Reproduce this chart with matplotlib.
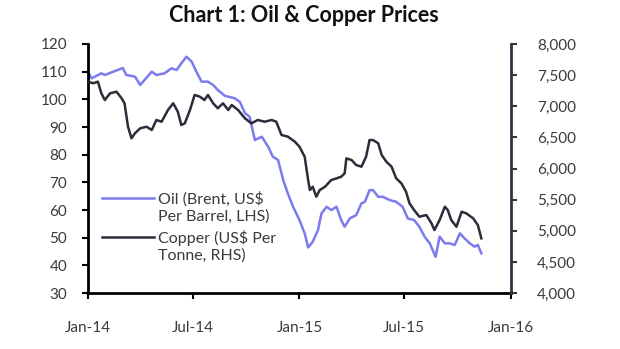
import matplotlib
matplotlib.use("Agg")
import matplotlib.pyplot as plt
import matplotlib.dates as mdates
import matplotlib.ticker as mticker
import numpy as np
import pandas as pd

plt.rcParams['font.family'] = ['Lato', 'DejaVu Sans']

# Brent oil, US$ per barrel (LHS)
oil_dates = ['2014-01-01', '2014-01-07', '2014-01-24', '2014-01-30', '2014-02-21', '2014-03-02',
             '2014-03-08', '2014-03-23', '2014-04-01', '2014-04-06', '2014-04-21', '2014-04-29',
             '2014-05-13', '2014-05-25', '2014-06-03', '2014-06-11', '2014-06-20', '2014-06-29',
             '2014-07-07', '2014-07-16', '2014-07-27', '2014-08-05', '2014-08-13', '2014-08-25',
             '2014-09-11', '2014-09-20', '2014-09-29', '2014-10-07', '2014-10-16', '2014-10-28',
             '2014-11-08', '2014-11-16', '2014-11-25', '2014-12-04', '2014-12-12', '2014-12-21',
             '2015-01-01', '2015-01-10', '2015-01-16', '2015-01-24', '2015-02-02', '2015-02-08',
             '2015-02-17', '2015-02-25', '2015-03-06', '2015-03-14', '2015-03-20', '2015-03-29',
             '2015-04-09', '2015-04-18', '2015-04-24', '2015-05-02', '2015-05-08', '2015-05-17',
             '2015-05-25', '2015-06-06', '2015-06-17', '2015-06-28', '2015-07-07', '2015-07-18',
             '2015-07-27', '2015-08-05', '2015-08-14', '2015-08-24', '2015-08-31', '2015-09-09',
             '2015-09-17', '2015-09-26', '2015-10-05', '2015-10-13', '2015-10-22', '2015-10-30',
             '2015-11-05', '2015-11-11']
oil_price = [110, 107.6, 109.4, 108.8, 110.6, 111.3,
             108.8, 108.2, 105.2, 106.4, 110, 108.8,
             109.4, 111.2, 110.6, 113, 115.4, 113.6,
             110, 106.4, 106.4, 105.2, 103.4, 101.3,
             100.4, 99.1, 95, 93.7, 85.3, 86.5,
             82.9, 79.3, 78.1, 70.8, 66, 61.2,
             56.4, 51.6, 46.5, 48.6, 52.8, 58.8,
             61.2, 60, 61.2, 56.4, 54, 57,
             58.2, 62.4, 63, 67.2, 67.2, 64.8,
             64.8, 63.6, 63, 61.2, 57, 56.4,
             54, 50.4, 48, 43.1, 50.4, 48,
             48, 47.4, 51.6, 49.8, 48, 46.8,
             47.4, 44.4]

# Copper, US$ per tonne (RHS)
cu_dates = ['2014-01-01', '2014-01-10', '2014-01-18', '2014-01-24', '2014-01-30', '2014-02-08',
            '2014-02-19', '2014-02-28', '2014-03-05', '2014-03-11', '2014-03-17', '2014-03-23',
            '2014-04-01', '2014-04-12', '2014-04-21', '2014-04-29', '2014-05-08', '2014-05-19',
            '2014-05-28', '2014-06-05', '2014-06-11', '2014-06-17', '2014-06-26', '2014-07-04',
            '2014-07-13', '2014-07-21', '2014-07-27', '2014-08-05', '2014-08-13', '2014-08-22',
            '2014-08-31', '2014-09-06', '2014-09-17', '2014-09-29', '2014-10-10', '2014-10-21',
            '2014-11-02', '2014-11-14', '2014-11-22', '2014-12-01', '2014-12-12', '2014-12-24',
            '2015-01-01', '2015-01-10', '2015-01-16', '2015-01-19', '2015-01-24', '2015-01-30',
            '2015-02-05', '2015-02-14', '2015-02-25', '2015-03-06', '2015-03-14', '2015-03-20',
            '2015-03-23', '2015-04-01', '2015-04-09', '2015-04-18', '2015-04-26', '2015-05-02',
            '2015-05-08', '2015-05-17', '2015-05-23', '2015-05-31', '2015-06-09', '2015-06-17',
            '2015-06-26', '2015-07-04', '2015-07-10', '2015-07-18', '2015-07-27', '2015-08-08',
            '2015-08-17', '2015-08-22', '2015-08-31', '2015-09-09', '2015-09-14', '2015-09-20',
            '2015-09-29', '2015-10-08', '2015-10-16', '2015-10-28', '2015-11-05', '2015-11-11']
cu_price = [7395, 7369, 7395, 7208, 7100, 7208,
            7234, 7128, 7048, 6672, 6486, 6566,
            6646, 6672, 6619, 6780, 6752, 6940,
            7048, 6913, 6700, 6726, 6940, 7181,
            7154, 7100, 7181, 7048, 6967, 7048,
            6940, 7020, 6940, 6806, 6726, 6780,
            6752, 6780, 6752, 6539, 6512, 6432,
            6351, 6190, 5816, 5655, 5708, 5548,
            5655, 5708, 5816, 5843, 5869, 5923,
            6164, 6137, 6057, 6030, 6190, 6458,
            6458, 6405, 6217, 6110, 6030, 5843,
            5763, 5628, 5442, 5334, 5227, 5254,
            5120, 5013, 5174, 5388, 5334, 5174,
            5066, 5307, 5281, 5200, 5093, 4880]

oil_label = 'Oil (Brent, US$\nPer Barrel, LHS)'
cu_label = 'Copper (US$ Per\nTonne, RHS)'
x_ticks = ['2014-01-01', '2014-07-01', '2015-01-01', '2015-07-01', '2016-01-01']

oil_color = '#7b7bee'
cu_color = '#2c2c3a'
text_color = '#3a3a3a'
leg_fs = 11.5

fig = plt.figure(figsize=(6.2, 3.49), dpi=100)
ax = fig.add_axes([0.142, 0.160, 0.682, 0.714])
ax2 = ax.twinx()

l1, = ax.plot(pd.to_datetime(oil_dates), oil_price, color=oil_color, lw=1.8)
l2, = ax2.plot(pd.to_datetime(cu_dates), cu_price, color=cu_color, lw=1.8)

ax.set_xlim(pd.Timestamp('2014-01-01'), pd.Timestamp('2016-01-01'))
ax.set_ylim(30, 120)
ax2.set_ylim(4000, 8000)
ax.set_yticks(range(30, 121, 10))
ax2.set_yticks(range(4000, 8001, 500))
ax2.yaxis.set_major_formatter(mticker.StrMethodFormatter('{x:,.0f}'))
ax.set_xticks(pd.to_datetime(x_ticks))
ax.xaxis.set_major_formatter(mdates.DateFormatter('%b-%y'))

for a in (ax, ax2):
    a.spines['top'].set_visible(False)
ax.spines['right'].set_visible(False)
ax2.spines['left'].set_visible(False)
ax2.spines['bottom'].set_visible(False)
ax.spines['left'].set_linewidth(2)
ax.spines['bottom'].set_linewidth(2)
ax.spines['left'].set_color('black')
ax.spines['bottom'].set_color('black')
ax2.spines['right'].set_linewidth(2)
ax2.spines['right'].set_color('#333344')

ax.tick_params(axis='y', direction='out', length=4, width=1.5, pad=11,
               labelsize=11, labelcolor=text_color)
ax.tick_params(axis='x', direction='out', length=4, width=1.5, pad=16,
               labelsize=11, labelcolor=text_color)
ax2.tick_params(axis='y', direction='out', length=4, width=1.5, color='#333344',
                pad=15, labelsize=11, labelcolor=text_color)

leg = ax2.legend([l1, l2], [oil_label, cu_label], loc='upper left',
                 bbox_to_anchor=(0.018, 0.434), borderaxespad=0, frameon=False,
                 fontsize=leg_fs, handlelength=3.25, handletextpad=0.25,
                 labelspacing=0.45, labelcolor=text_color)
# line up each legend sample with the first line of its label
for h in leg.legend_handles:
    h.set_ydata(np.asarray(h.get_ydata()) + 0.6 * leg_fs)

fig.suptitle('Chart 1: Oil & Copper Prices', x=0.49, y=0.985, fontsize=15.5,
             fontweight='bold', color='#111111')

fig.savefig('out.png', dpi=100, facecolor='white')
